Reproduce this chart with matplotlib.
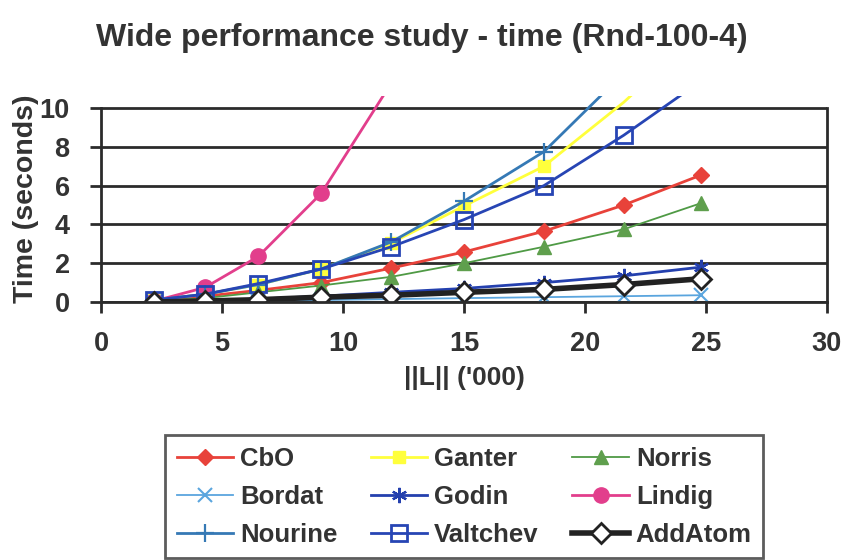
import matplotlib.pyplot as plt

plt.rcParams['font.family'] = ['Liberation Sans', 'DejaVu Sans']
plt.rcParams['font.weight'] = 'bold'

# ||L|| in thousands
sizes = [2.2, 4.3, 6.5, 9.1, 12.0, 15.0, 18.3, 21.6, 24.8]

# time in seconds
cbo      = [0.10, 0.30, 0.60, 1.00, 1.75, 2.58, 3.65, 5.00, 6.55]
ganter   = [0.10, 0.40, 0.90, 1.70, 3.05, 4.95, 7.00, 10.30, 14.0]
norris   = [0.05, 0.20, 0.50, 0.85, 1.30, 2.00, 2.85, 3.75, 5.10]
bordat   = [0.00, 0.03, 0.07, 0.10, 0.15, 0.20, 0.25, 0.30, 0.35]
godin    = [0.00, 0.05, 0.15, 0.30, 0.50, 0.70, 1.00, 1.35, 1.80]
lindig   = [0.05, 0.75, 2.35, 5.60, 11.3]
nourine  = [0.10, 0.40, 0.90, 1.70, 3.10, 5.20, 7.75, 11.8, 16.0]
valtchev = [0.10, 0.40, 0.95, 1.70, 2.85, 4.25, 6.00, 8.60, 11.4]
addatom  = [0.00, 0.05, 0.12, 0.25, 0.35, 0.50, 0.65, 0.90, 1.20]

YMAX = 10

fig = plt.figure(figsize=(8.43, 5.6), dpi=100)
ax = fig.add_axes([0.1198, 0.4607, 0.8612, 0.367])

txt = '#333333'
grid_c = '#2b2b2b'


def series(vals, **kw):
    # excel hides markers that sit above the axis maximum
    shown = [i for i, v in enumerate(vals) if v <= YMAX]
    return ax.plot(sizes[:len(vals)], vals, markevery=shown, **kw)[0]


h = {}
h['CbO'] = series(cbo, color='#e8423a', lw=2, marker='D', ms=8, label='CbO')
h['Ganter'] = series(ganter, color='#ffff3c', lw=2, marker='s', ms=9,
                     label='Ganter')
h['Norris'] = series(norris, color='#4f9a45', lw=1.3, marker='^', ms=10,
                     mfc='#5f9f4d', mec='#5f9f4d', label='Norris')
h['Bordat'] = series(bordat, color='#5aa5de', lw=1.3, marker='x', ms=10,
                     mew=1.5, label='Bordat')
h['Godin'] = series(godin, color='#2440ae', lw=2, marker=(6, 2, 0), ms=11,
                    mew=1.6, label='Godin')
h['Lindig'] = series(lindig, color='#e23e8c', lw=2, marker='o', ms=11,
                     label='Lindig')
h['Nourine'] = series(nourine, color='#3579b5', lw=2, marker='+', ms=13,
                      mew=1.6, label='Nourine')
h['Valtchev'] = series(valtchev, color='#2745b4', lw=2, marker='s', ms=11,
                       mfc='none', mew=2, label='Valtchev')
h['AddAtom'] = series(addatom, color='#222222', lw=4, marker='D', ms=10,
                      mfc='white', mew=2, label='AddAtom')

ax.set_xlim(0, 30)
ax.set_ylim(0, 10.6)
ax.set_xticks(range(0, 31, 5))
ax.set_yticks(range(0, 11, 2))
ax.grid(axis='y', color=grid_c, lw=2)
ax.set_axisbelow(True)

ax.spines['top'].set_visible(False)
for s in ['left', 'right', 'bottom']:
    ax.spines[s].set_color(grid_c)
    ax.spines[s].set_linewidth(2)
    if s != 'bottom':
        ax.spines[s].set_bounds(0, YMAX)
ax.tick_params(axis='both', direction='out', length=8, width=2, color=grid_c,
               labelsize=19.5, labelcolor=txt)
ax.tick_params(axis='x', pad=13)
ax.tick_params(axis='y', pad=14.5)

ax.set_xlabel("||L|| ('000)", fontsize=19, fontweight='bold', color=txt,
              labelpad=6)
ax.set_ylabel('Time (seconds)', fontsize=20.5, fontweight='bold', color=txt,
              labelpad=0)

fig.text(0.5, 0.932, 'Wide performance study - time (Rnd-100-4)',
         fontsize=23, fontweight='bold', color=txt, ha='center', va='center')

# legend filled row by row like excel: reorder for matplotlib's columns
order = ['CbO', 'Bordat', 'Nourine', 'Ganter', 'Godin', 'Valtchev',
         'Norris', 'Lindig', 'AddAtom']
leg = fig.legend([h[k] for k in order], order, loc='upper left',
                 bbox_to_anchor=(165 / 843, 1 - 435 / 560), borderaxespad=0,
                 ncol=3, fontsize=18.5, frameon=True, fancybox=False,
                 handlelength=2.2, columnspacing=1.3, handletextpad=0.27,
                 labelspacing=0.55, borderpad=0.45)
leg.get_frame().set_edgecolor('#333333')
leg.get_frame().set_linewidth(2)
for t in leg.get_texts():
    t.set_color(txt)

fig.savefig('out.png', dpi=100)
